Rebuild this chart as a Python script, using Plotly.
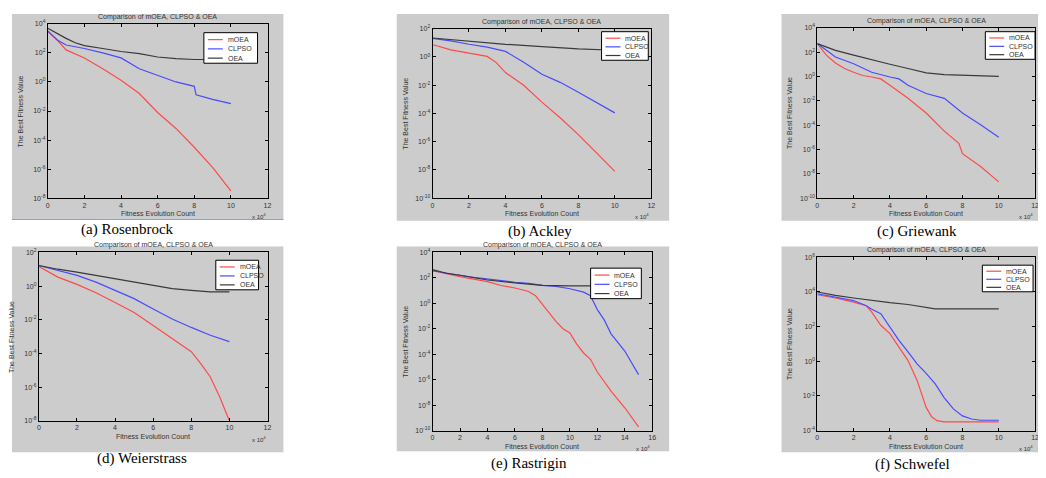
import plotly.graph_objects as go

# The page body has an 8px default margin, so the figure is drawn 8px in
# from the window's top-left corner; all pixel positions below are window
# positions and are shifted by this offset.
OFF = 8
W, H = 1046 - OFF, 478 - OFF

# ---------------- data (x in units of 10^4 evaluations) ----------------
# (a) Rosenbrock
ros_moea_x = [0, 0.5, 1, 1.5, 2, 3, 4, 5, 6, 7, 8, 9, 10]
ros_moea_y = [3.0e3, 8.0e2, 1.6e2, 9.0e1, 4.5e1, 8.0, 1.3, 0.16, 7.9e-3, 6.3e-4, 3.2e-5, 1.3e-6, 3.2e-8]
ros_clpso_x = [0, 0.5, 1, 2, 3, 4, 5, 6, 7, 8, 8.1, 9, 10]
ros_clpso_y = [3.2e3, 8.0e2, 3.5e2, 2.0e2, 1.0e2, 4.5e1, 8.0, 2.8, 1.0, 0.5, 0.13, 6.3e-2, 3.2e-2]
ros_oea_x = [0, 0.5, 1, 1.5, 2, 3, 4, 5, 6, 7, 8, 9, 10]
ros_oea_y = [5.0e3, 2.2e3, 1.0e3, 5.0e2, 3.2e2, 2.0e2, 1.25e2, 9.0e1, 5.2e1, 4.0e1, 3.5e1, 3.5e1, 3.5e1]

# (b) Ackley
ack_moea_x = [0, 1, 2, 3, 3.5, 4, 5, 6, 7, 8, 9, 10]
ack_moea_y = [7.6, 3.2, 1.9, 1.1, 0.4, 7.9e-2, 1.0e-2, 6.3e-4, 5.0e-5, 3.2e-6, 1.6e-7, 7.9e-9]
ack_clpso_x = [0, 1, 2, 3, 4, 4.5, 5, 6, 7, 8, 9, 10]
ack_clpso_y = [21, 14, 8.0, 5.0, 2.5, 1.1, 0.43, 5.9e-2, 1.6e-2, 3.2e-3, 6.3e-4, 1.1e-4]
ack_oea_x = [0, 2, 4, 6, 8, 10]
ack_oea_y = [22, 12.6, 7.9, 5.5, 3.8, 3.0]

# (c) Griewank
gri_moea_x = [0, 0.5, 1, 1.5, 2, 2.5, 3, 3.5, 4, 5, 6, 7, 7.8, 8, 9, 10]
gri_moea_y = [5.0e2, 56, 12.6, 4.5, 2.2, 1.2, 0.9, 0.63, 0.19, 1.6e-2, 1.0e-3, 3.2e-5, 3.2e-6, 4.5e-7, 4.0e-8, 2.2e-9]
gri_clpso_x = [0, 0.5, 1, 2, 3, 4, 4.5, 5, 6, 7, 8, 9, 10]
gri_clpso_y = [5.0e2, 1.4e2, 40, 11, 2.2, 0.9, 0.63, 0.19, 4.0e-2, 1.6e-2, 1.0e-3, 1.1e-4, 1.0e-5]
gri_oea_x = [0, 1, 2, 3, 4, 5, 6, 7, 8, 9, 10]
gri_oea_y = [5.0e2, 1.4e2, 56, 22, 10, 4.5, 2.0, 1.4, 1.2, 1.07, 1.0]

# (d) Weierstrass
wei_moea_x = [0, 1, 2, 3, 4, 5, 6, 7, 8, 8.5, 9, 9.5, 10]
wei_moea_y = [14.5, 3.4, 1.26, 0.4, 0.105, 2.7e-2, 4.5e-3, 7.1e-4, 1.26e-4, 2.5e-5, 4.0e-6, 2.5e-7, 1.0e-8]
wei_clpso_x = [0, 1, 2, 3, 4, 5, 6, 7, 8, 9, 10]
wei_clpso_y = [16.6, 8.3, 4.3, 1.7, 0.56, 0.18, 4.3e-2, 1.1e-2, 3.5e-3, 1.2e-3, 5.0e-4]
wei_oea_x = [0, 1, 2, 3, 4, 5, 6, 7, 8, 9, 10]
wei_oea_y = [16.6, 10, 6.8, 4.3, 2.75, 1.86, 1.15, 0.71, 0.56, 0.45, 0.45]

# (e) Rastrigin
ras_moea_x = [0, 1, 2, 3, 4, 5, 6, 7, 7.5, 8, 8.5, 9, 9.5, 10, 10.5, 11, 11.5, 12, 13, 14, 15]
ras_moea_y = [3.6e2, 2.0e2, 1.26e2, 80, 50, 25, 16, 8.5, 4.0, 0.83, 0.17, 3.7e-2, 1.0e-2, 4.7e-3,
              6.3e-4, 1.26e-4, 4.0e-5, 4.0e-6, 1.26e-7, 6.3e-9, 2.0e-10]
ras_clpso_x = [0, 1, 2, 3, 4, 5, 6, 7, 8, 9, 10, 11, 11.5, 12, 12.5, 13, 14, 15]
ras_clpso_y = [3.6e2, 2.3e2, 1.6e2, 1.1e2, 80, 63, 45, 37, 26, 21, 14, 7.6, 4.0, 0.32, 5.0e-2,
               4.0e-3, 1.8e-4, 2.5e-6]
ras_oea_x = [0, 1, 2, 4, 6, 8, 10, 12, 15]
ras_oea_y = [4.4e2, 2.3e2, 1.6e2, 68, 40, 26, 23, 23, 23]

# (f) Schwefel
sch_moea_x = [0, 1, 2, 2.7, 3, 3.5, 4, 4.5, 5, 5.5, 6, 6.3, 6.6, 7, 10]
sch_moea_y = [6.9e3, 4.5e3, 2.6e3, 1.6e3, 6.9e2, 1.2e2, 40, 6.8, 1.1, 7.9e-2, 2.2e-3, 6.3e-4,
              3.8e-4, 3.2e-4, 3.2e-4]
sch_clpso_x = [0, 1, 2, 2.7, 3, 3.5, 4, 4.5, 5, 5.5, 6, 6.5, 7, 7.5, 8, 8.5, 9, 10]
sch_clpso_y = [7.9e3, 5.0e3, 3.2e3, 1.6e3, 1.0e3, 5.6e2, 1.0e2, 16, 3.5, 0.71, 0.2, 5.0e-2,
               7.9e-3, 1.8e-3, 7.1e-4, 4.7e-4, 4.0e-4, 4.0e-4]
sch_oea_x = [0, 1, 2, 3, 4, 5, 6, 6.5, 7, 10]
sch_oea_y = [1.0e4, 6.3e3, 4.5e3, 3.2e3, 2.4e3, 1.9e3, 1.35e3, 1.07e3, 1.07e3, 1.07e3]

series_names = ["mOEA", "CLPSO", "OEA"]
captions = ["(a) Rosenbrock", "(b) Ackley", "(c) Griewank",
            "(d) Weierstrass", "(e) Rastrigin", "(f) Schwefel"]
y_exponents = [
    [4, 2, 0, -2, -4, -6, -8],
    [2, 0, -2, -4, -6, -8, -10],
    [4, 2, 0, -2, -4, -6, -8, -10],
    [2, 0, -2, -4, -6, -8],
    [4, 2, 0, -2, -4, -6, -8, -10],
    [6, 4, 2, 0, -2, -4],
]
x_ticks_10 = [0, 2, 4, 6, 8, 10, 12]
x_ticks_16 = [0, 2, 4, 6, 8, 10, 12, 14, 16]

panels_data = [
    [(ros_moea_x, ros_moea_y), (ros_clpso_x, ros_clpso_y), (ros_oea_x, ros_oea_y)],
    [(ack_moea_x, ack_moea_y), (ack_clpso_x, ack_clpso_y), (ack_oea_x, ack_oea_y)],
    [(gri_moea_x, gri_moea_y), (gri_clpso_x, gri_clpso_y), (gri_oea_x, gri_oea_y)],
    [(wei_moea_x, wei_moea_y), (wei_clpso_x, wei_clpso_y), (wei_oea_x, wei_oea_y)],
    [(ras_moea_x, ras_moea_y), (ras_clpso_x, ras_clpso_y), (ras_oea_x, ras_oea_y)],
    [(sch_moea_x, sch_moea_y), (sch_clpso_x, sch_clpso_y), (sch_oea_x, sch_oea_y)],
]

# ---------------- layout geometry (window pixels) ----------------
grey_boxes = [(10, 10, 283, 218), (397, 10, 671, 220), (784, 10, 1046, 220),
              (10, 246, 283, 455), (397, 246, 671, 454), (784, 246, 1046, 455)]
plot_boxes = [(46, 20, 267, 197), (433, 25, 653, 197), (820, 24, 1039, 197),
              (37, 252, 267, 423), (433, 252, 654, 433), (820, 257, 1039, 433)]
legend_boxes = [(203, 29, 257, 60), (603, 28, 650, 57), (989, 28, 1039, 56),
                (215, 260, 258, 290), (592, 268, 643, 299), (986, 265, 1037, 292)]
caption_pos = [(126, 229), (541, 231), (920, 231), (141, 461), (530, 466), (916, 467)]

colors = ["#ff4a4a", "#4a4aff", "#3a3a3a"]
SANS = "Liberation Sans, Arial, sans-serif"
TXT = "#333333"


def px(x):
    return (x - OFF) / W


def py(y):
    return 1 - (y - OFF) / H


fig = go.Figure()
shapes = []
annotations = []
layout = {}

for i in range(6):
    n = i + 1
    ax = "" if n == 1 else str(n)
    gx0, gy0, gx1, gy1 = grey_boxes[i]
    shapes.append(dict(type="rect", xref="paper", yref="paper", layer="below",
                       x0=px(gx0), x1=min(1.0, px(gx1)), y0=py(gy1), y1=py(gy0),
                       fillcolor="#cccccc", line=dict(width=0)))
    bx0, by0, bx1, by1 = plot_boxes[i]
    exps = y_exponents[i]
    xt = x_ticks_16 if i == 4 else x_ticks_10
    layout["xaxis" + ax] = dict(
        domain=[px(bx0), px(bx1)], anchor="y" + ax, range=[0, xt[-1]],
        tickvals=xt, ticktext=[str(v) for v in xt], ticks="inside", ticklen=3,
        tickcolor="black", showline=True, linecolor="black", linewidth=1,
        mirror="ticks", showgrid=False, zeroline=False,
        tickfont=dict(size=7, family=SANS, color=TXT))
    layout["yaxis" + ax] = dict(
        domain=[py(by1), py(by0)], anchor="x" + ax, type="log",
        range=[exps[-1], exps[0]],
        tickvals=[10.0 ** e for e in exps],
        ticktext=["10<sup>%d</sup>" % e for e in exps],
        ticks="inside", ticklen=3, tickcolor="black", showline=True,
        linecolor="black", linewidth=1, mirror="ticks", showgrid=False,
        zeroline=False, tickfont=dict(size=7, family=SANS, color=TXT))
    for k, (xs, ys) in enumerate(panels_data[i]):
        fig.add_trace(go.Scatter(x=xs, y=ys, mode="lines", name=series_names[k],
                                 line=dict(color=colors[k], width=1.2),
                                 xaxis="x" + ax, yaxis="y" + ax, showlegend=False))

    # compact MATLAB-style legend box
    lx0, ly0, lx1, ly1 = legend_boxes[i]
    shapes.append(dict(type="rect", xref="paper", yref="paper", layer="above",
                       x0=px(lx0), x1=px(lx1), y0=py(ly1), y1=py(ly0),
                       fillcolor="white", line=dict(color="black", width=1)))
    step = (ly1 - ly0) / 3.3
    for k in range(3):
        ry = ly0 + step * (0.75 + k)
        shapes.append(dict(type="line", xref="paper", yref="paper", layer="above",
                           x0=px(lx0 + 4), x1=px(lx0 + 19), y0=py(ry), y1=py(ry),
                           line=dict(color=colors[k], width=1.2)))
        annotations.append(dict(text=series_names[k], xref="paper", yref="paper",
                                x=px(lx0 + 22), y=py(ry), xanchor="left", yanchor="middle",
                                showarrow=False, font=dict(size=7, family=SANS, color=TXT)))

    cx = (bx0 + bx1) / 2
    cy = (by0 + by1) / 2
    annotations.append(dict(text="Comparison of mOEA, CLPSO &amp; OEA", xref="paper", yref="paper",
                            x=px(cx), y=py(by0 - 1), xanchor="center", yanchor="bottom",
                            showarrow=False, font=dict(size=7, family=SANS, color=TXT)))
    annotations.append(dict(text="Fitness Evolution Count", xref="paper", yref="paper",
                            x=px(cx), y=py(by1 + 10), xanchor="center", yanchor="top",
                            showarrow=False, font=dict(size=7, family=SANS, color=TXT)))
    annotations.append(dict(text="The Best Fitness Value", xref="paper", yref="paper",
                            x=px(bx0 - 22), y=py(cy), xanchor="right", yanchor="middle",
                            textangle=-90, showarrow=False,
                            font=dict(size=7, family=SANS, color=TXT)))
    annotations.append(dict(text="x 10<sup>4</sup>", xref="paper", yref="paper",
                            x=px(bx1), y=py(by1 + 12), xanchor="right", yanchor="top",
                            showarrow=False, font=dict(size=6, family=SANS, color=TXT)))
    capx, capy = caption_pos[i]
    annotations.append(dict(text=captions[i], xref="paper", yref="paper",
                            x=px(capx), y=py(capy), xanchor="center", yanchor="middle",
                            showarrow=False,
                            font=dict(size=15, family="Liberation Serif, Times New Roman, serif",
                                      color="black")))

# thin blue rule under panel (a)
shapes.append(dict(type="line", xref="paper", yref="paper", x0=px(10), x1=px(283),
                   y0=py(218.5), y1=py(218.5), line=dict(color="#6f8fd0", width=1)))

fig.update_layout(**layout)
fig.update_layout(width=W, height=H, margin=dict(l=0, r=0, t=0, b=0),
                  paper_bgcolor="white", plot_bgcolor="white",
                  shapes=shapes, annotations=annotations, showlegend=False)

fig.write_html("out.html")
